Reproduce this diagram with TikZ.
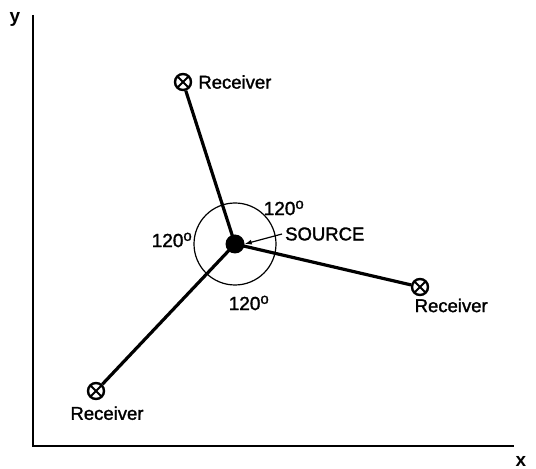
\documentclass[tikz,border=0pt]{standalone}
\usepackage{fontspec}
\setmainfont{Liberation Sans}
\newfontfamily\figfont[FakeBold=1.5]{Liberation Sans}
\usepackage{tikz}
\usetikzlibrary{arrows.meta, positioning}

\begin{document}
\begin{tikzpicture}[
        x=1pt, y=1pt,
        receiver/.style={
            circle,
            draw,
            line width=2.4pt,
            fill=white,
            minimum size=16pt,
            inner sep=0pt,
            path picture={
                \draw[line width=2pt]
                    (path picture bounding box.north west) -- (path picture bounding box.south east)
                    (path picture bounding box.north east) -- (path picture bounding box.south west);
            }
        },
        source/.style={circle, fill=black, minimum size=19pt, inner sep=0pt},
        txt/.style={font=\figfont\fontsize{18.5}{20}\selectfont, inner sep=0pt},
        angle/.style={font=\figfont\fontsize{19}{20}\selectfont, inner sep=0pt},
        axis/.style={line width=1.4pt},
        ray/.style={line width=3.2pt}
    ]
        \useasboundingbox (0,0) rectangle (536,469);

        % axes
        \coordinate (origin) at (33,23);
        \coordinate (ytop) at (33,454);
        \coordinate (xend) at (514,23);
        \draw[axis] (ytop) -- (origin) -- (xend);
        \node[txt, font=\fontsize{19}{20}\selectfont\bfseries] (ylab) at (15,450) {y};
        \node[txt, font=\fontsize{19}{20}\selectfont\bfseries] (xlab) at (521,8) {x};

        % source and circle
        \node[source] (src) at (235,225) {};
        \draw[line width=1.2pt] (src.center) circle (41);

        % receivers
        \node[receiver] (rtop) at (183,387) {};
        \node[receiver] (rright) at (420,182) {};
        \node[receiver] (rleft) at (96,78) {};

        \draw[ray] (src.center) -- (rtop);
        \draw[ray] (src.center) -- (rright);
        \draw[ray] (src.center) -- (rleft);

        \node[txt, right=6pt of rtop] (ltop) {Receiver};
        \node[txt, below right=5pt and -12pt of rright] (lright) {Receiver};
        \node[txt, below=6pt of rleft, xshift=11pt] (lleft) {Receiver};

        % angles
        \node[angle] (atr) at (284,261) {120\textsuperscript{\fontsize{15}{15}\selectfont o}};
        \node[angle] (al) at (172,229) {120\textsuperscript{\fontsize{15}{15}\selectfont o}};
        \node[angle] (ab) at (249,166) {120\textsuperscript{\fontsize{15}{15}\selectfont o}};

        % source label
        \node[txt, anchor=west] (srclab) at (285,235) {SOURCE};
        \draw[line width=1.2pt, -{Latex[length=7pt, width=5pt]}] ([xshift=-3pt]srclab.west) -- (src.east);
    \end{tikzpicture}
\end{document}
